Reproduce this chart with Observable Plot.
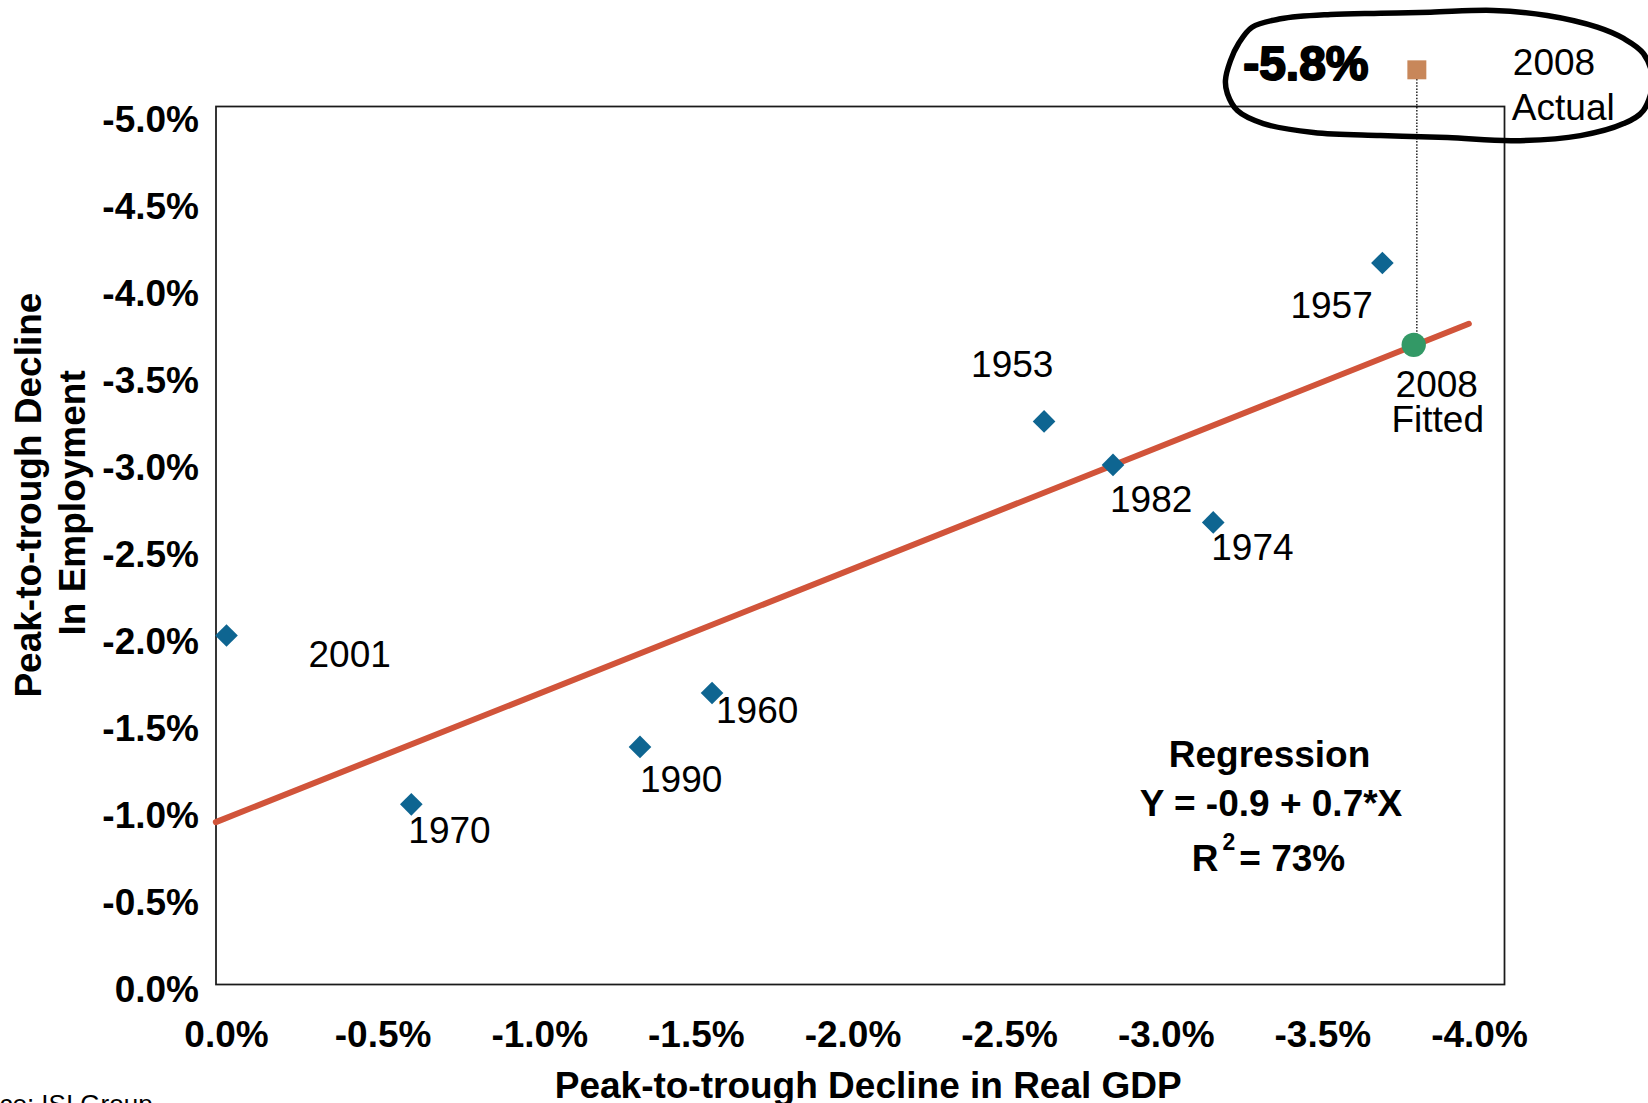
<!DOCTYPE html>
<html><head><meta charset="utf-8">
<script src="https://cdn.jsdelivr.net/npm/d3@7"></script>
<script src="https://cdn.jsdelivr.net/npm/@observablehq/plot@0.6"></script>
<style>
html,body{margin:0;padding:0;background:#fff;}
#chart svg{display:block;}
</style></head>
<body><div id="chart"></div>
<script>
// ---------- data ----------
const years       = ["2001", "1970", "1990", "1960", "1953", "1982", "1974", "1957"];
const gdpDecline  = [0.00, -0.59, -1.32, -1.55, -2.61, -2.83, -3.15, -3.69];
const empDecline  = [-2.04, -1.07, -1.40, -1.71, -3.27, -3.02, -2.69, -4.18];

const fitted2008Gdp = [-3.79];
const fitted2008Emp = [-3.71];
const actual2008Gdp = [-3.80];
const actual2008Emp = [-5.29];          // drawn above the frame (true value -5.8%)
const actual2008Text = ["-5.8%"];

const regLineGdp = [0.034, -3.966];
const regLineEmp = [-0.968, -3.831];
const regressionText = ["Regression", "Y = -0.9 + 0.7*X", "R2= 73%"];

const xTicks = [0, -0.5, -1, -1.5, -2, -2.5, -3, -3.5, -4];
const yTicks = [0, -0.5, -1, -1.5, -2, -2.5, -3, -3.5, -4, -4.5, -5];

// hand-drawn loop around the 2008 actual annotation (data units)
const loopGdp = [-3.274,-3.365,-3.524,-3.684,-3.844,-4.045,-4.216,-4.376,-4.460,-4.523,-4.552,-4.523,-4.460,-4.322,-4.109,-3.898,-3.684,-3.470,-3.310,-3.227,-3.195,-3.189,-3.205,-3.231];
const loopEmp = [-5.535,-5.583,-5.608,-5.615,-5.621,-5.631,-5.602,-5.535,-5.470,-5.384,-5.229,-5.056,-4.981,-4.912,-4.883,-4.901,-4.912,-4.930,-4.981,-5.056,-5.154,-5.229,-5.343,-5.441];

// ---------- styling / label offsets ----------
const FONT = "'Liberation Sans', Arial, Helvetica, sans-serif";
const labelOffsets = {
  "2001": [82, 20.6], "1970": [-3, 27.7], "1990": [0, 33.5], "1960": [4, 19],
  "1953": [-73, -55.8], "1982": [-3, 35.6], "1974": [-2, 26], "1957": [-92, 44.1]
};
const fmt = d => d.toFixed(1) + "%";

const points = years.map((yr, i) => ({year: yr, x: gdpDecline[i], y: empDecline[i]}));
const fitted = [{x: fitted2008Gdp[0], y: fitted2008Emp[0]}];
const actual = [{x: actual2008Gdp[0], y: actual2008Emp[0], t: actual2008Text[0]}];
const regLine = regLineGdp.map((x, i) => ({x, y: regLineEmp[i]}));
const loop = loopGdp.map((x, i) => ({x, y: loopEmp[i]}));

const yearLabels = points.map(p => Plot.text([p], {
  x: "x", y: "y", text: "year", textAnchor: "start", lineAnchor: "middle",
  dx: labelOffsets[p.year][0], dy: labelOffsets[p.year][1] - 0.5,
  fontSize: 37, fill: "#000"
}));

const chart = Plot.plot({
  width: 1648, height: 1103,
  marginLeft: 215.5, marginRight: 144, marginTop: 106, marginBottom: 119,
  style: {fontFamily: FONT, background: "#fff", color: "#000"},
  x: {domain: [0, -4], insetLeft: 10.5, insetRight: 25},
  y: {domain: [0, -5], insetTop: 13.8, insetBottom: -6.1},
  marks: [
    Plot.frame({stroke: "#1a1a1a", strokeWidth: 1.75}),
    Plot.axisX({ticks: xTicks, tickFormat: fmt, tickSize: 0, tickPadding: 36, fontSize: 37, fontWeight: "bold", label: null}),
    Plot.axisY({ticks: yTicks, tickFormat: fmt, tickSize: 0, tickPadding: 17, fontSize: 37, fontWeight: "bold", label: null}),
    Plot.line(regLine, {x: "x", y: "y", stroke: "#D1543A", strokeWidth: 6}),
    Plot.link(actual, {x1: "x", x2: "x", y1: "y", y2: () => fitted2008Emp[0], stroke: "#000", strokeWidth: 1.3, strokeDasharray: "1.5,1.6"}),
    Plot.line(loop, {x: "x", y: "y", curve: "catmull-rom-closed", stroke: "#000", strokeWidth: 5.5}),
    Plot.dot(points, {x: "x", y: "y", symbol: "diamond2", r: 10.2, fill: "#0E6591"}),
    Plot.dot(fitted, {x: "x", y: "y", r: 12.2, fill: "#339966"}),
    Plot.dot(actual, {x: "x", y: "y", symbol: "square", r: 10.7, fill: "#C8875A"}),
    ...yearLabels,
    Plot.text(fitted, {x: "x", y: "y", text: () => "2008", textAnchor: "middle", dx: 23, dy: 40, fontSize: 37}),
    Plot.text(fitted, {x: "x", y: "y", text: () => "Fitted", textAnchor: "middle", dx: 24, dy: 75.5, fontSize: 37}),
    Plot.text(actual, {x: "x", y: "y", text: () => "2008", textAnchor: "start", dx: 96, dy: -6.5, fontSize: 37}),
    Plot.text(actual, {x: "x", y: "y", text: () => "Actual", textAnchor: "start", dx: 95, dy: 38.5, fontSize: 37}),
    Plot.text(actual, {x: "x", y: "y", text: "t", textAnchor: "middle", dx: -111, dy: -5.6, fontSize: 48, fontWeight: "bold", fill: "#000", stroke: "#000", strokeWidth: 2, strokeLinejoin: "round"}),
    // regression box
    Plot.text([regressionText[0]], {frameAnchor: "bottom-right", text: d => d, textAnchor: "middle", lineAnchor: "middle", dx: -235, dy: -229.5, fontSize: 37, fontWeight: "bold"}),
    Plot.text([regressionText[1]], {frameAnchor: "bottom-right", text: d => d, textAnchor: "middle", lineAnchor: "middle", dx: -233.5, dy: -180.5, fontSize: 37, fontWeight: "bold"}),
    Plot.text([regressionText[2]], {frameAnchor: "bottom-right", text: d => d, textAnchor: "middle", lineAnchor: "middle", dx: -236, dy: -125.5, fontSize: 37, fontWeight: "bold"}),
    // axis titles
    Plot.text(["Peak-to-trough Decline in Real GDP"], {frameAnchor: "bottom", text: d => d, textAnchor: "middle", lineAnchor: "bottom", dx: 8, dy: 113, fontSize: 37, fontWeight: "bold"}),
    Plot.text(["Peak-to-trough Decline"], {frameAnchor: "left", text: d => d, rotate: -90, textAnchor: "middle", lineAnchor: "middle", dx: -186.6, dy: -50.4, fontSize: 37, fontWeight: "bold"}),
    Plot.text(["In Employment"], {frameAnchor: "left", text: d => d, rotate: -90, textAnchor: "middle", lineAnchor: "middle", dx: -143.1, dy: -42.6, fontSize: 37, fontWeight: "bold"}),
    // source
    Plot.text(["Source: ISI Group"], {frameAnchor: "bottom-left", text: d => d, textAnchor: "start", lineAnchor: "bottom", dx: -271.5, dy: 128.5, fontSize: 26})
  ]
});

// superscript in R² label
chart.querySelectorAll("text").forEach(t => {
  if (t.textContent === regressionText[2]) {
    const ns = "http://www.w3.org/2000/svg";
    t.textContent = "";
    const a = document.createElementNS(ns, "tspan"); a.textContent = "R";
    const b = document.createElementNS(ns, "tspan"); b.textContent = "2";
    b.setAttribute("font-size", "23"); b.setAttribute("dy", "-21"); b.setAttribute("dx", "4");
    const c = document.createElementNS(ns, "tspan"); c.textContent = "= 73%";
    c.setAttribute("dy", "21"); c.setAttribute("dx", "4");
    t.append(a, b, c);
  }
});

document.getElementById("chart").appendChild(chart);
</script>
</body></html>
